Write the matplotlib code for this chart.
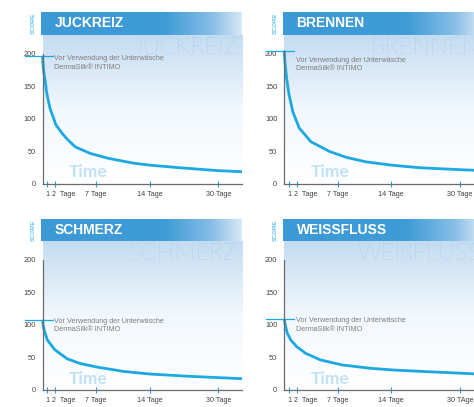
import numpy as np
import matplotlib
matplotlib.use("Agg")
import matplotlib.pyplot as plt
import matplotlib.transforms as mtrans
from matplotlib.colors import LinearSegmentedColormap

plt.rcParams['font.family'] = ['Liberation Sans', 'DejaVu Sans']

# ---------------- data ----------------
titles = ['JUCKREIZ', 'BRENNEN', 'SCHMERZ', 'WEISSFLUSS']
watermarks = ['JUCKREIZ', 'BRENNEN', 'SCHMERZ', 'WEIßFLUSS']
tick_days = [1, 2, 7, 14, 30]
tick_labels = [
    ['1', '2  Tage', '7 Tage', '14 Tage', '30 Tage'],
    ['1', '2  Tage', '7 Tage', '14 Tage', '30 Tage'],
    ['1', '2  Tage', '7 Tage', '14 Tage', '30 Tage'],
    ['1', '2  Tage', '7 Tage', '14 Tage', '30 TAge'],
]
y_ticks = [0, 50, 100, 150, 200]
start_scores = [197, 205, 108, 109]
note_text = 'Vor Verwendung der Unterwäsche\nDermaSilk® INTIMO'
time_label = 'Time'
score_label = 'SCORE'

juckreiz_days = [0, 0.14, 0.35, 0.63, 0.83, 1.12, 1.37, 1.76, 2.14, 2.89, 3.5, 4.5,
                 6.3, 8.6, 11.9, 14, 21, 30, 35.5]
juckreiz_score = [197, 180, 168, 155, 142, 129, 116, 104, 91, 78, 69, 57,
                  47, 39.5, 32, 29, 25, 20.5, 18.9]

brennen_days = [0, 0.13, 0.47, 1.0, 1.5, 2.33, 3.74, 6.0, 8.1, 10.7, 14, 20.6, 30, 35.5]
brennen_score = [205, 188, 163, 137, 111, 86, 65, 50, 41, 34, 29, 25, 22, 20.5]

schmerz_days = [0, 0.15, 0.35, 1.0, 2.0, 3.5, 5.0, 7.0, 10.6, 14, 21.9, 30, 35.5]
schmerz_score = [108, 99, 92, 77, 62, 48, 41, 35.5, 28.5, 24.6, 21.5, 19, 17.4]

weissfluss_days = [0, 0.2, 0.63, 1.22, 2.01, 3.1, 4.9, 7.56, 11.3, 14.3, 22.2, 31, 35.5]
weissfluss_score = [109, 100, 87, 77, 66.7, 56.4, 46.2, 38.5, 33.3, 30.8, 28.2, 25.6, 24]

series_days = [juckreiz_days, brennen_days, schmerz_days, weissfluss_days]
series_score = [juckreiz_score, brennen_score, schmerz_score, weissfluss_score]

# ---------------- style / layout ----------------
W, H = 474, 407
CURVE = '#1ba8e3'
AXIS = '#6b6b6b'
DAY_ANCHOR = np.array([0, 1, 2, 7, 14, 30, 36])
POS_ANCHOR = np.array([0, 4.8, 12.2, 53.5, 107, 175.8, 201.6])
NOTE_Y = [186, 184, 99, 100]   # vertical placement of the note text (score units)

def fwd(x):
    return np.interp(x, DAY_ANCHOR, POS_ANCHOR)

def inv(p):
    return np.interp(p, POS_ANCHOR, DAY_ANCHOR)

fig = plt.figure(figsize=(W / 100, H / 100), dpi=100)

def rect(x0, ytop, w, h):
    return [x0 / W, 1 - (ytop + h) / H, w / W, h / H]

bg_cmap = LinearSegmentedColormap.from_list('bg', ['#ffffff', '#f2f8fd', '#c4dcf1'])
hd_cmap = LinearSegmentedColormap.from_list(
    'hd', [(0, '#3b99d5'), (0.62, '#3f9cd7'), (0.85, '#86bde6'), (1.0, '#d8e9f7')])

panels = [
    (42.5, 35, 41, 12),      # axes left, axes top, header left, header top
    (284.3, 35, 283, 12),
    (42.5, 241, 41, 218.5),
    (284.3, 241, 283, 218.5),
]
AX_W, AX_H = 199.5, 149
HD_W, HD_H = 201, 23

for i, (axl, axt, hl, ht) in enumerate(panels):
    # header band
    hax = fig.add_axes(rect(hl, ht, HD_W, HD_H))
    hax.imshow(np.linspace(0, 1, 256)[None, :], cmap=hd_cmap, aspect='auto',
               extent=(0, 1, 0, 1), transform=hax.transAxes)
    hax.set_axis_off()
    hax.text(13.5 / HD_W, 0.34, titles[i], color='white', fontsize=10,
             fontweight='bold', ha='left', va='baseline', transform=hax.transAxes)
    fig.text((hl - 7.5) / W, 1 - (ht + HD_H / 2) / H, score_label, rotation=90,
             color='#5ec5ef', fontsize=4.3, fontweight='bold', ha='center', va='center')

    ax = fig.add_axes(rect(axl, axt, AX_W, AX_H))
    ax.set_xscale('function', functions=(fwd, inv))
    ax.set_xlim(0, 35.5)
    ax.set_ylim(0, 229)
    ax.patch.set_alpha(0)
    ax.imshow(np.linspace(0, 1, 256)[:, None], cmap=bg_cmap, aspect='auto',
              extent=(0, 1, 0, 1), transform=ax.transAxes, origin='lower', zorder=0)

    ax.plot(series_days[i], series_score[i], color=CURVE, lw=2.0,
            solid_capstyle='butt', solid_joinstyle='round', zorder=3, clip_on=False)

    # marker line at start score
    btr = mtrans.blended_transform_factory(ax.transAxes, ax.transData)
    ax.plot([-18 / AX_W, 10 / AX_W], [start_scores[i]] * 2, color=CURVE, lw=0.9,
            transform=btr, clip_on=False, zorder=3)
    ax.text(12 / AX_W, NOTE_Y[i], note_text, transform=btr, fontsize=5.2,
            color='#7d7d7d', ha='left', va='center', linespacing=1.25, zorder=4)

    # watermark and "Time"
    ax.text(1 - 4 / AX_W, 1 - 19.5 / AX_H, watermarks[i], transform=ax.transAxes,
            family=['Lato', 'DejaVu Sans'], fontweight='light', fontsize=17,
            color='#98c4e8', ha='right', va='baseline', zorder=1)
    ax.text(26 / AX_W, 6.5 / AX_H, time_label, transform=ax.transAxes,
            family=['Lato', 'DejaVu Sans'], fontweight='bold', fontsize=12.5,
            color='#c0e2f7', ha='left', va='baseline', zorder=2)

    # axes styling
    for s in ['top', 'right']:
        ax.spines[s].set_visible(False)
    for s in ['left', 'bottom']:
        ax.spines[s].set_color(AXIS)
        ax.spines[s].set_linewidth(0.9)
        ax.spines[s].set_zorder(5)
    ax.spines['left'].set_bounds(0, max(200, start_scores[i]))

    ax.set_yticks(y_ticks)
    ax.set_yticklabels([str(v) for v in y_ticks])
    ax.tick_params(axis='y', length=0, pad=5, labelsize=5.3, labelcolor='#444444')
    ax.set_xticks(tick_days)
    ax.set_xticklabels(tick_labels[i])
    ax.xaxis.set_minor_locator(matplotlib.ticker.NullLocator())
    ax.tick_params(axis='x', direction='inout', length=4, width=0.8, color=CURVE,
                   pad=3, labelsize=5.2, labelcolor='#444444')
    lab = ax.get_xticklabels()[1]
    lab.set_horizontalalignment('left')
    lab.set_transform(lab.get_transform() +
                      mtrans.ScaledTranslation(-1.8 / 72, 0, fig.dpi_scale_trans))

fig.savefig('out.png', dpi=100)
